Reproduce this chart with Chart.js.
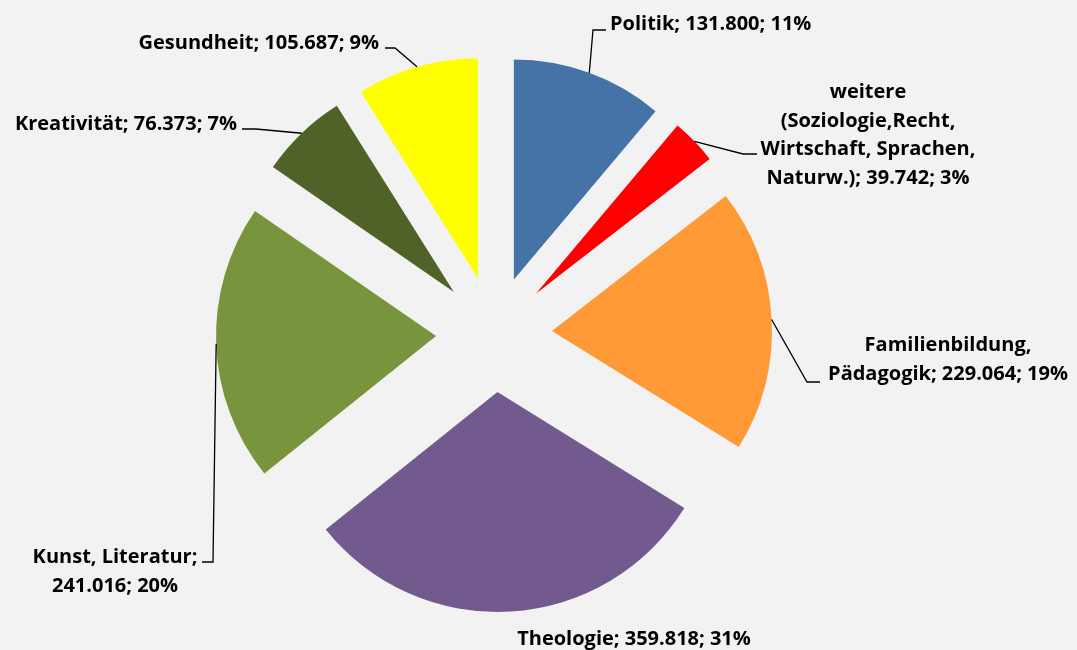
<!DOCTYPE html>
<html>
<head>
<meta charset="utf-8">
<script src="https://cdn.jsdelivr.net/npm/chart.js@4.4.0/dist/chart.umd.min.js"></script>
<style>
  html, body { margin: 0; padding: 0; background: #f2f2f2; }
  #chart { display: block; }
</style>
</head>
<body>
<canvas id="chart" width="1077" height="650"></canvas>
<script>
// Kategorien, Zeilenumbrüche wie in der Vorlage
const categories = [
  'Politik',
  'weitere\n(Soziologie,Recht,\nWirtschaft, Sprachen,\nNaturw.)',
  'Familienbildung,\nPädagogik',
  'Theologie',
  'Kunst, Literatur',
  'Kreativität',
  'Gesundheit',
];
const values = [131800, 39742, 229064, 359818, 241016, 76373, 105687];
// Prozentangaben so wie sie im Bild stehen
const percentLabels = [11, 3, 19, 31, 20, 7, 9];
const colors = ['#4573a7', '#ff0000', '#ff9a36', '#725a8f', '#78943d', '#4f6228', '#ffff00'];

// where each label sits, and the bend of its leader line
const labelLayout = [
  { align: 'left', x: 610, y: 30, elbow: [593, 30], end: [606, 30] },
  { align: 'center', x: 868, y: 98, elbow: [743, 154], end: [757, 154] },
  { align: 'center', x: 948, y: 351, elbow: [807, 382], end: [820, 382] },
  { align: 'center', x: 634, y: 645 },
  { align: 'center', x: 115, y: 563, elbow: [213, 562], end: [202, 562], breakAfterName: true },
  { align: 'right', x: 237, y: 130, elbow: [256, 129], end: [242, 129] },
  { align: 'right', x: 379, y: 49, elbow: [395, 48], end: [385, 48] },
];

const EXPLODE = 58;
const LINE_HEIGHT = 28.7;
const FONT = 'bold 20px "Open Sans"';

const formatNumber = (v) => String(v).replace(/\B(?=(\d{3})+(?!\d))/g, '.');

const explodePlugin = {
  id: 'explode',
  // draw every slice pushed out along its middle angle
  beforeDatasetDraw(chart, args) {
    const { ctx } = chart;
    args.meta.data.forEach((arc) => {
      const mid = (arc.startAngle + arc.endAngle) / 2;
      ctx.save();
      ctx.translate(Math.cos(mid) * EXPLODE, Math.sin(mid) * EXPLODE);
      arc.draw(ctx);
      ctx.restore();
    });
    return false;
  },
  afterDatasetsDraw(chart) {
    const { ctx } = chart;
    const meta = chart.getDatasetMeta(0);
    ctx.save();
    ctx.font = FONT;
    ctx.fillStyle = '#000';
    ctx.strokeStyle = '#000';
    ctx.lineWidth = 1.3;
    meta.data.forEach((arc, i) => {
      const layout = labelLayout[i];
      const sep = layout.breakAfterName ? ';\n' : '; ';
      const text = `${categories[i]}${sep}${formatNumber(values[i])}; ${percentLabels[i]}%`;

      if (layout.elbow) {
        const mid = (arc.startAngle + arc.endAngle) / 2;
        const r = arc.outerRadius + EXPLODE;
        ctx.beginPath();
        ctx.moveTo(arc.x + Math.cos(mid) * r, arc.y + Math.sin(mid) * r);
        ctx.lineTo(layout.elbow[0], layout.elbow[1]);
        ctx.lineTo(layout.end[0], layout.end[1]);
        ctx.stroke();
      }

      ctx.textAlign = layout.align;
      ctx.textBaseline = 'alphabetic';
      text.split('\n').forEach((line, j) => {
        ctx.fillText(line, layout.x, layout.y + j * LINE_HEIGHT);
      });
    });
    ctx.restore();
  },
};

const pieCtx = document.getElementById('chart').getContext('2d');
const pieChart = new Chart(pieCtx, {
  type: 'pie',
  data: {
    labels: categories,
    datasets: [{
      data: values,
      backgroundColor: colors,
      borderWidth: 0,
      radius: 220,
    }],
  },
  options: {
    responsive: false,
    animation: false,
    layout: {
      padding: { left: 0, right: 89, top: 18, bottom: 0 },
    },
    plugins: {
      legend: { display: false },
      tooltip: { enabled: false },
    },
  },
  plugins: [explodePlugin],
});
</script>
</body>
</html>
